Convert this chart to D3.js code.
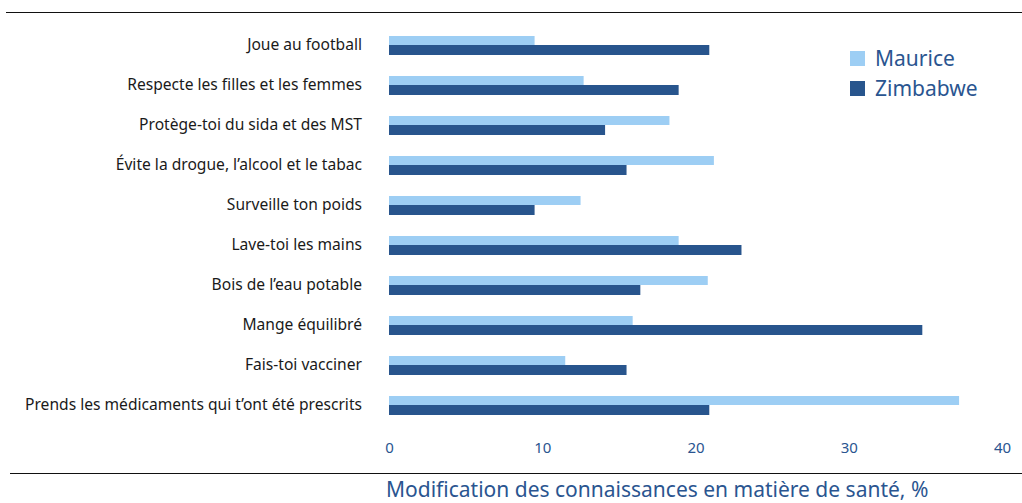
<!DOCTYPE html>
<html>
<head>
<meta charset="utf-8">
<script src="https://cdn.jsdelivr.net/npm/d3@7"></script>
<style>
  body { margin: 0; background: #fff; }
  svg { display: block; font-family: "Noto Sans", "Open Sans", sans-serif; }
</style>
</head>
<body>
<div id="chart"></div>
<script>
const categories = [
  "Joue au football",
  "Respecte les filles et les femmes",
  "Protège-toi du sida et des MST",
  "Évite la drogue, l’alcool et le tabac",
  "Surveille ton poids",
  "Lave-toi les mains",
  "Bois de l’eau potable",
  "Mange équilibré",
  "Fais-toi vacciner",
  "Prends les médicaments qui t’ont été prescrits"
];
const maurice  = [9.5, 12.7, 18.3, 21.2, 12.5, 18.9, 20.8, 15.9, 11.5, 37.2];
const zimbabwe = [20.9, 18.9, 14.1, 15.5, 9.5, 23.0, 16.4, 34.8, 15.5, 20.9];
const seriesNames = ["Maurice", "Zimbabwe"];
const xTicks = [0, 10, 20, 30, 40];

const width = 1022, height = 503;
const colors = { Maurice: "#9dcef4", Zimbabwe: "#28558d" };
const textBlue = "#2a5590";

const svg = d3.select("#chart").append("svg")
  .attr("width", width)
  .attr("height", height);

const x = d3.scaleLinear().domain([0, 40]).range([389, 1002]);
const y = d3.scaleBand().domain(categories).range([25, 425]);

const rows = categories.map((c, i) => ({ c, m: maurice[i], z: zimbabwe[i] }));

// rules top and bottom
svg.append("line")
  .attr("x1", 6).attr("x2", width).attr("y1", 12.5).attr("y2", 12.5)
  .attr("stroke", "#111").attr("stroke-width", 1.2);
svg.append("line")
  .attr("x1", 10).attr("x2", width).attr("y1", 473.5).attr("y2", 473.5)
  .attr("stroke", "#111").attr("stroke-width", 1.2);

const g = svg.append("g");

g.selectAll("rect.m")
  .data(rows)
  .enter().append("rect")
    .attr("class", "m")
    .attr("x", x(0))
    .attr("y", d => y(d.c) + 11)
    .attr("width", d => x(d.m) - x(0))
    .attr("height", 9)
    .attr("fill", colors.Maurice);

g.selectAll("rect.z")
  .data(rows)
  .enter().append("rect")
    .attr("class", "z")
    .attr("x", x(0))
    .attr("y", d => y(d.c) + 20)
    .attr("width", d => x(d.z) - x(0))
    .attr("height", 10)
    .attr("fill", colors.Zimbabwe);

// category labels
g.selectAll("text.cat")
  .data(rows)
  .enter().append("text")
    .attr("class", "cat")
    .attr("x", 362)
    .attr("y", d => y(d.c) + 20)
    .attr("dy", "0.35em")
    .attr("text-anchor", "end")
    .attr("font-size", 15.6)
    .attr("fill", "#1a1a1a")
    .text(d => d.c);

// x axis labels
const axis = svg.append("g")
  .attr("transform", "translate(0,448)")
  .call(d3.axisBottom(x).tickValues(xTicks).tickSize(0).tickPadding(0));
axis.select(".domain").remove();
axis.selectAll("text")
  .attr("dy", "0.35em")
  .attr("font-size", 15)
  .attr("font-family", "\"Noto Sans\", sans-serif")
  .attr("fill", textBlue);

svg.append("text")
  .attr("x", 386)
  .attr("y", 497)
  .attr("font-size", 21)
  .attr("fill", textBlue)
  .text("Modification des connaissances en matière de santé, %");

// legend
const legend = svg.append("g").attr("transform", "translate(850,51)");
const li = legend.selectAll("g")
  .data(seriesNames)
  .enter().append("g")
    .attr("transform", (d, i) => `translate(0,${i * 30})`);
li.append("rect")
  .attr("width", 15).attr("height", 15)
  .attr("fill", d => colors[d]);
li.append("text")
  .attr("x", 25).attr("y", 8)
  .attr("dy", "0.35em")
  .attr("font-size", 21)
  .attr("fill", textBlue)
  .text(d => d);
</script>
</body>
</html>
